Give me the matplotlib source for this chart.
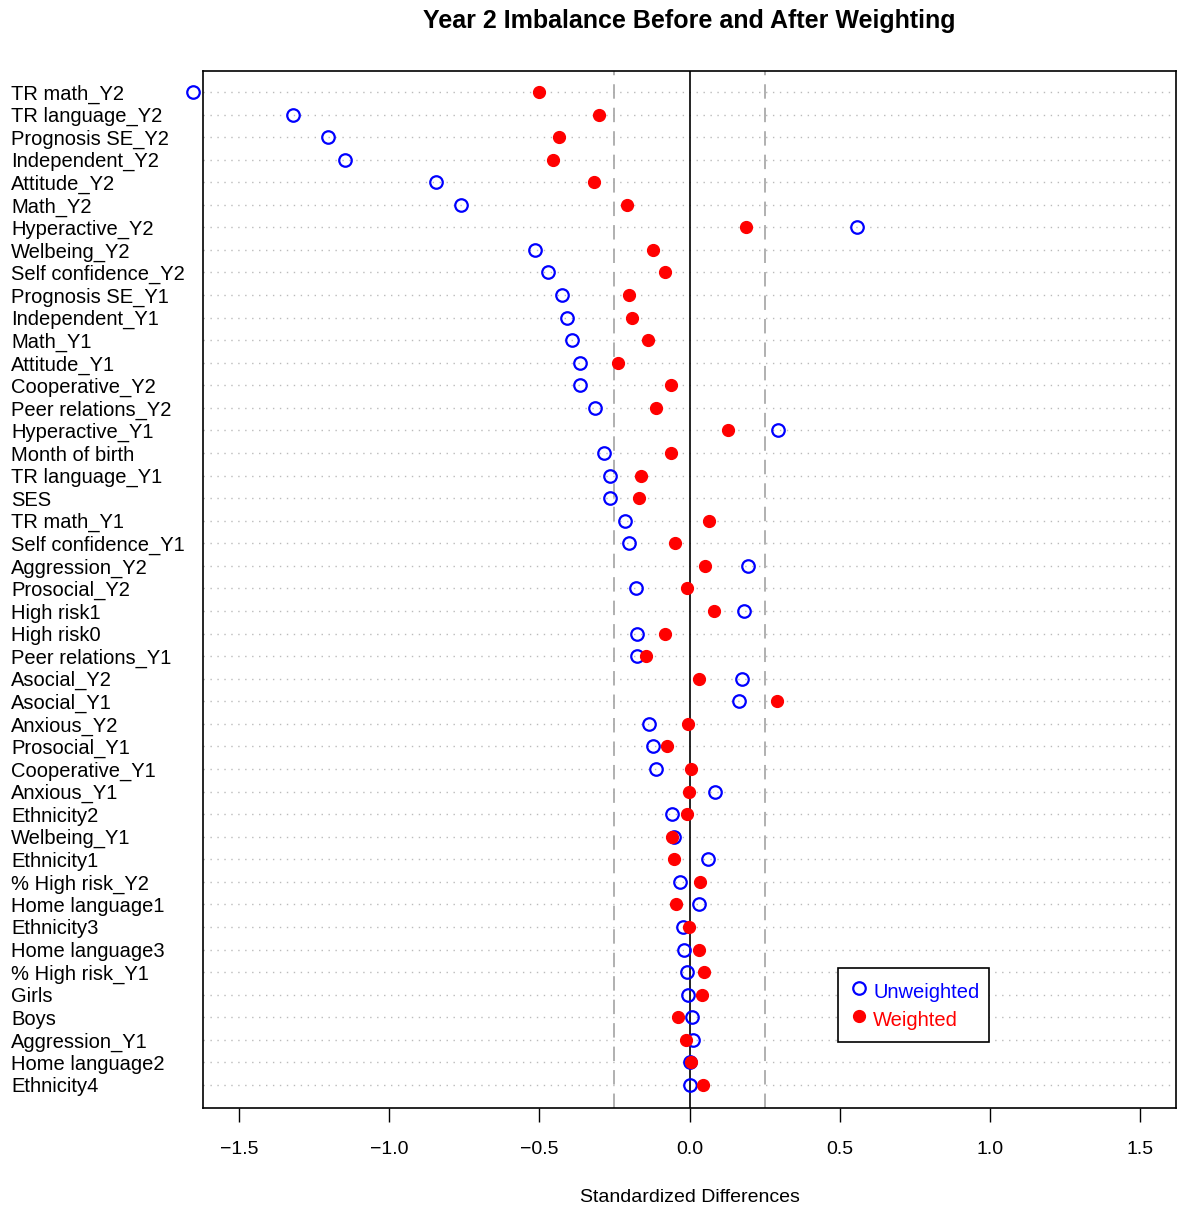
import matplotlib
matplotlib.use('Agg')
import matplotlib.pyplot as plt

plt.rcParams['font.family'] = ['Liberation Sans', 'DejaVu Sans']

# Variables, top to bottom
variables = ['TR math_Y2', 'TR language_Y2', 'Prognosis SE_Y2', 'Independent_Y2', 'Attitude_Y2',
             'Math_Y2', 'Hyperactive_Y2', 'Welbeing_Y2', 'Self confidence_Y2', 'Prognosis SE_Y1',
             'Independent_Y1', 'Math_Y1', 'Attitude_Y1', 'Cooperative_Y2', 'Peer relations_Y2',
             'Hyperactive_Y1', 'Month of birth', 'TR language_Y1', 'SES', 'TR math_Y1',
             'Self confidence_Y1', 'Aggression_Y2', 'Prosocial_Y2', 'High risk1', 'High risk0',
             'Peer relations_Y1', 'Asocial_Y2', 'Asocial_Y1', 'Anxious_Y2', 'Prosocial_Y1',
             'Cooperative_Y1', 'Anxious_Y1', 'Ethnicity2', 'Welbeing_Y1', 'Ethnicity1',
             '% High risk_Y2', 'Home language1', 'Ethnicity3', 'Home language3', '% High risk_Y1',
             'Girls', 'Boys', 'Aggression_Y1', 'Home language2', 'Ethnicity4']

# Standardized differences before weighting
unweighted = [-1.653, -1.320, -1.203, -1.148, -0.843, -0.761, 0.556, -0.516, -0.470, -0.426,
              -0.408, -0.393, -0.366, -0.366, -0.316, 0.296, -0.284, -0.266, -0.264, -0.214,
              -0.201, 0.196, -0.178, 0.180, -0.175, -0.174, 0.176, 0.166, -0.134, -0.121,
              -0.111, 0.085, -0.058, -0.053, 0.060, -0.032, 0.033, -0.021, -0.020, -0.010,
              -0.004, 0.009, 0.011, 0.002, 0.002]

# Standardized differences after weighting
weighted = [-0.500, -0.301, -0.433, -0.453, -0.319, -0.207, 0.187, -0.122, -0.082, -0.202,
            -0.190, -0.137, -0.238, -0.061, -0.111, 0.127, -0.062, -0.163, -0.168, 0.065,
            -0.050, 0.050, -0.010, 0.082, -0.083, -0.145, 0.031, 0.292, -0.005, -0.076,
            0.004, -0.001, -0.009, -0.059, -0.052, 0.036, -0.046, -0.002, 0.031, 0.047,
            0.043, -0.038, -0.012, 0.005, 0.045]

n = len(variables)
ypos = list(range(n, 0, -1))

fig = plt.figure(figsize=(11.81, 12.11), dpi=100)
ax = fig.add_axes([0.1719, 0.0851, 0.8239, 0.8563])

# guide lines
for y in ypos:
    ax.axhline(y, color='#bbbbbb', linestyle=(0, (1, 4)), linewidth=1.0, zorder=1)
ax.axvline(0, color='black', linewidth=1.2, zorder=2)
ax.axvline(-0.25, color='#aaaaaa', linestyle=(0, (8, 5)), linewidth=1.3, zorder=2)
ax.axvline(0.25, color='#aaaaaa', linestyle=(0, (8, 5)), linewidth=1.3, zorder=2)

ax.plot(unweighted, ypos, linestyle='none', marker='o', markersize=9, markerfacecolor='none',
        markeredgecolor='blue', markeredgewidth=1.6, label='Unweighted', zorder=3, clip_on=False)
ax.plot(weighted, ypos, linestyle='none', marker='o', markersize=8.5, markerfacecolor='red',
        markeredgecolor='red', label='Weighted', zorder=4, clip_on=False)

ax.set_xlim(-1.62, 1.62)
ax.set_ylim(-0.02, n + 0.93)
ax.set_xticks([-1.5, -1.0, -0.5, 0.0, 0.5, 1.0, 1.5])
ax.set_xticklabels(['\u22121.5', '\u22121.0', '\u22120.5', '0.0', '0.5', '1.0', '1.5'])
ax.tick_params(axis='x', direction='out', length=10, width=1, labelsize=14, pad=14)

ax.set_yticks(ypos)
ax.set_yticklabels(variables)
ax.tick_params(axis='y', length=0, labelsize=14.5, pad=138)
for lab in ax.get_yticklabels():
    lab.set_horizontalalignment('left')

for sp in ax.spines.values():
    sp.set_linewidth(1.2)

ax.set_xlabel('Standardized Differences', fontsize=14, labelpad=22)
fig.text(0.584, 0.983, 'Year 2 Imbalance Before and After Weighting', ha='center', va='center',
         fontsize=18, fontweight='bold')

leg = ax.legend(loc='lower left', bbox_to_anchor=(0.6526, 0.0636), borderaxespad=0,
                fontsize=14.5, fancybox=False, edgecolor='black', framealpha=1,
                labelcolor=['blue', 'red'], handletextpad=0.1, handlelength=1.2,
                handleheight=1.7, borderpad=0.45, labelspacing=0.05)
leg.get_frame().set_linewidth(1.2)

plt.savefig('out.png', dpi=100)
